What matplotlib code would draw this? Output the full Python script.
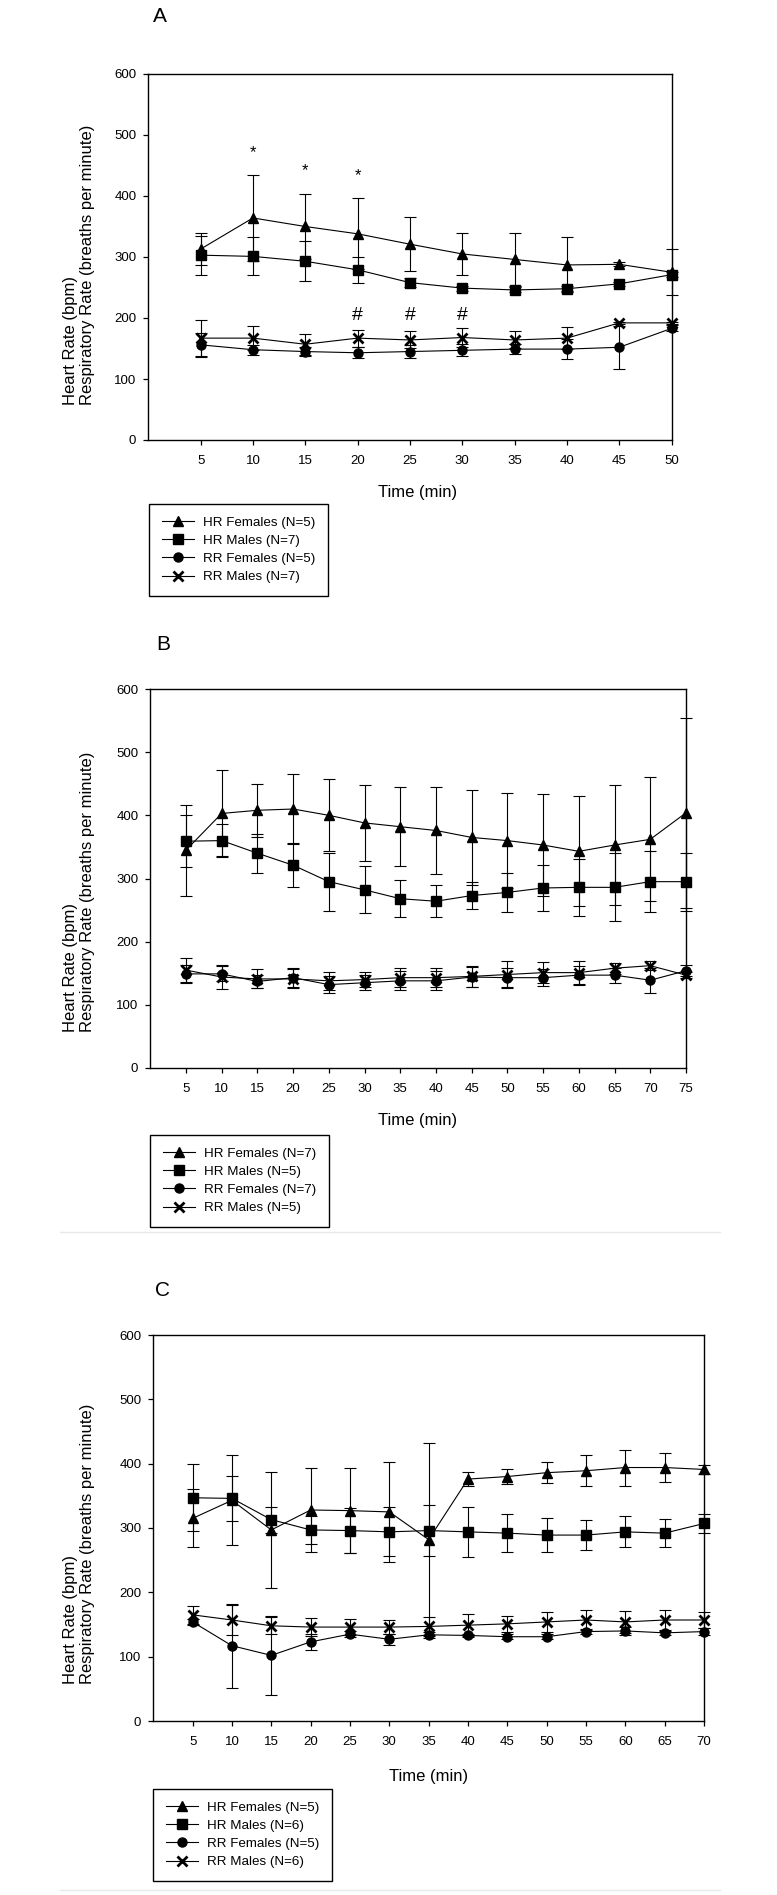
import matplotlib
matplotlib.use('Agg')
import matplotlib.pyplot as plt
import matplotlib.transforms as mtransforms
from matplotlib.lines import Line2D

plt.rcParams['font.family'] = ['Liberation Sans', 'DejaVu Sans']

# ---------------- data ----------------
timeA = [5, 10, 15, 20, 25, 30, 35, 40, 45, 50]
hrF_A = [313, 364, 350, 338, 321, 305, 296, 287, 288, 275]
hrF_A_err = [26, 70, 54, 58, 44, 35, 44, 45, 3, 38]
hrM_A = [303, 301, 293, 279, 258, 249, 246, 248, 256, 271]
hrM_A_err = [32, 31, 33, 21, 8, 4, 4, 4, 3, 4]
rrF_A = [156, 148, 145, 143, 145, 147, 149, 149, 152, 183]
rrF_A_err = [20, 8, 8, 9, 10, 10, 8, 16, 35, 5]
rrM_A = [167, 167, 157, 167, 164, 168, 164, 167, 192, 192]
rrM_A_err = [30, 20, 17, 14, 14, 15, 14, 18, 2, 2]
labelsA = ['HR Females (N=5)', 'HR Males (N=7)', 'RR Females (N=5)', 'RR Males (N=7)']
star_x = [10, 15, 20]
star_y = [471, 441, 433]
hash_x = [20, 25, 30]
hash_y = [204, 204, 204]

timeB = [5, 10, 15, 20, 25, 30, 35, 40, 45, 50, 55, 60, 65, 70, 75]
hrF_B = [345, 403, 408, 410, 400, 388, 382, 376, 365, 360, 353, 343, 353, 362, 404]
hrF_B_err = [72, 68, 42, 56, 57, 60, 63, 69, 75, 75, 80, 87, 95, 98, 150]
hrM_B = [359, 360, 340, 321, 295, 282, 268, 264, 273, 278, 285, 286, 286, 295, 295]
hrM_B_err = [41, 26, 31, 35, 46, 37, 29, 25, 22, 31, 37, 45, 54, 48, 46]
rrF_B = [149, 149, 137, 143, 132, 135, 138, 138, 144, 143, 143, 147, 147, 139, 154]
rrF_B_err = [14, 12, 10, 15, 14, 12, 15, 15, 16, 15, 13, 15, 12, 20, 9]
rrM_B = [155, 144, 141, 141, 138, 140, 143, 143, 145, 148, 151, 151, 158, 162, 147]
rrM_B_err = [19, 19, 15, 15, 14, 12, 15, 15, 16, 21, 17, 18, 9, 7, 5]
labelsB = ['HR Females (N=7)', 'HR Males (N=5)', 'RR Females (N=7)', 'RR Males (N=5)']

timeC = [5, 10, 15, 20, 25, 30, 35, 40, 45, 50, 55, 60, 65, 70]
hrF_C = [315, 343, 297, 328, 327, 325, 282, 376, 380, 386, 389, 394, 394, 391]
hrF_C_err = [45, 70, 90, 65, 66, 78, 150, 11, 12, 16, 24, 28, 22, 7]
hrM_C = [347, 346, 313, 297, 296, 294, 296, 294, 292, 289, 289, 294, 292, 307]
hrM_C_err = [52, 35, 20, 22, 35, 38, 40, 39, 29, 27, 23, 24, 22, 15]
rrF_C = [154, 117, 102, 123, 135, 127, 134, 133, 131, 131, 139, 140, 137, 139]
rrF_C_err = [5, 65, 61, 13, 5, 9, 5, 3, 4, 4, 4, 6, 3, 5]
rrM_C = [165, 157, 148, 146, 146, 146, 147, 149, 151, 154, 157, 154, 157, 157]
rrM_C_err = [14, 24, 13, 14, 12, 11, 14, 17, 12, 15, 15, 17, 15, 12]
labelsC = ['HR Females (N=5)', 'HR Males (N=6)', 'RR Females (N=5)', 'RR Males (N=6)']

yticks = [0, 100, 200, 300, 400, 500, 600]
ylabel = 'Heart Rate (bpm)\nRespiratory Rate (breaths per minute)'
xlabel = 'Time (min)'

# ---------------- layout (pixels) ----------------
W, H = 777, 1895
fig = plt.figure(figsize=(W / 100, H / 100), dpi=100)
fig.patch.set_facecolor('white')


def fx(px):
    return px / W


def fy(py):
    return 1 - py / H


markers = [dict(marker='^', ms=7.5), dict(marker='s', ms=6.5),
           dict(marker='o', ms=6.5), dict(marker='x', ms=7, mew=2)]

panels = [
    dict(letter='A', rect=(148.3, 74, 671.6, 440), xmax=50, t=timeA,
         s=[(hrF_A, hrF_A_err), (hrM_A, hrM_A_err), (rrF_A, rrF_A_err), (rrM_A, rrM_A_err)],
         labels=labelsA, leg=(149, 504), letter_pos=(160, 17), time_pos=(418, 493)),
    dict(letter='B', rect=(150.3, 689, 686, 1068), xmax=75, t=timeB,
         s=[(hrF_B, hrF_B_err), (hrM_B, hrM_B_err), (rrF_B, rrF_B_err), (rrM_B, rrM_B_err)],
         labels=labelsB, leg=(150.3, 1135), letter_pos=(163, 645), time_pos=(418, 1120)),
    dict(letter='C', rect=(153.3, 1335, 704, 1721), xmax=70, t=timeC,
         s=[(hrF_C, hrF_C_err), (hrM_C, hrM_C_err), (rrF_C, rrF_C_err), (rrM_C, rrM_C_err)],
         labels=labelsC, leg=(153, 1789), letter_pos=(162, 1290), time_pos=(428.7, 1776)),
]

for p in panels:
    l, t, r, b = p['rect']
    ax = fig.add_axes([fx(l), fy(b), (r - l) / W, (b - t) / H])
    ax.set_xlim(0, p['xmax'])
    ax.set_ylim(0, 600)
    ax.set_xticks(p['t'])
    ax.set_yticks(yticks)
    ax.tick_params(axis='both', direction='out', length=3.6, width=0.9,
                   labelsize=9.5, colors='black')
    ax.tick_params(axis='x', pad=7)
    ax.tick_params(axis='y', pad=5)
    for sp in ax.spines.values():
        sp.set_linewidth(1.0)
        sp.set_color('black')

    handles = []
    for (vals, errs), mk, lab in zip(p['s'], markers, p['labels']):
        ax.errorbar(p['t'], vals, yerr=errs, fmt='none', ecolor='black',
                    elinewidth=0.8, capsize=4, capthick=0.8, clip_on=False, zorder=2)
        ln, = ax.plot(p['t'], vals, color='black', lw=0.8, mfc='black', mec='black',
                      label=lab, clip_on=False, zorder=3, **mk)
        handles.append(ln)

    if p['letter'] == 'A':
        for xx, yy in zip(star_x, star_y):
            ax.text(xx, yy, '*', ha='center', va='center', fontsize=12)
        for xx, yy in zip(hash_x, hash_y):
            ax.text(xx, yy, '#', ha='center', va='center', fontsize=14)

    # y label (two lines, aligned at the bottom)
    tr = mtransforms.blended_transform_factory(fig.transFigure, ax.transAxes)
    fig.text(fx(79), 0.095, ylabel, rotation=90, ha='center', va='bottom',
             multialignment='left', fontsize=12, transform=tr)

    fig.text(fx(p['time_pos'][0]), fy(p['time_pos'][1]), xlabel,
             ha='center', va='center', fontsize=12)
    fig.text(fx(p['letter_pos'][0]), fy(p['letter_pos'][1]), p['letter'],
             ha='center', va='center', fontsize=15)

    leg = fig.legend(handles, p['labels'], loc='upper left',
                     bbox_to_anchor=(fx(p['leg'][0]), fy(p['leg'][1])),
                     bbox_transform=fig.transFigure, borderaxespad=0,
                     frameon=True, fancybox=False, shadow=False, framealpha=1,
                     edgecolor='black', fontsize=9.6, handlelength=2.4,
                     handletextpad=0.7, labelspacing=0.43, borderpad=0.95,
                     numpoints=1)
    leg.get_frame().set_linewidth(1.0)

# faint separator lines between original panels
for yy in (1232, 1890):
    fig.add_artist(Line2D([fx(60), fx(720)], [fy(yy), fy(yy)], color='#e8e8e8', lw=1))

fig.savefig('out.png', dpi=100, facecolor='white')
